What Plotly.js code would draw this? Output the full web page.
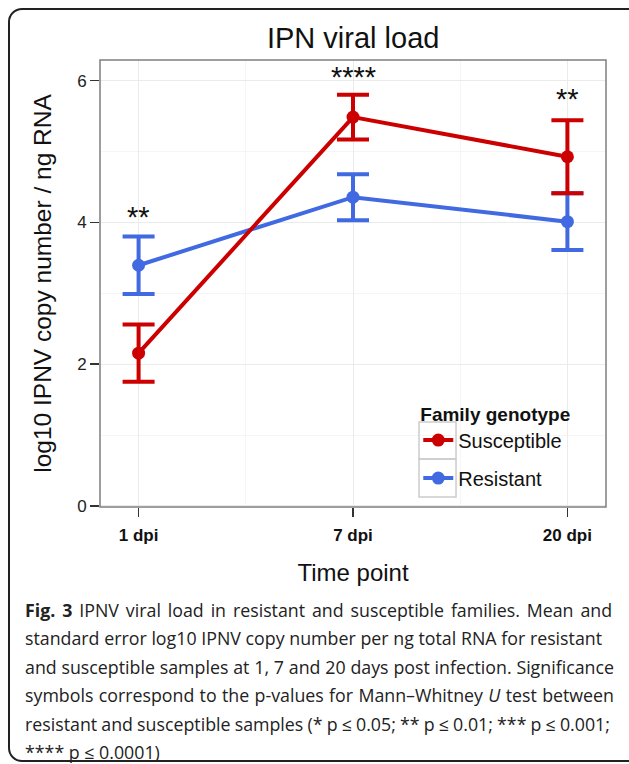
<!DOCTYPE html>
<html>
<head>
<meta charset="utf-8">
<script src="https://cdn.plot.ly/plotly-3.0.1.min.js"></script>
<style>
  html, body { margin: 0; padding: 0; background: #fff; }
  #wrap { position: relative; width: 629px; height: 764px; overflow: hidden; background: #fff; }
  #frame { position: absolute; left: 8px; top: 8px; width: 640px; height: 754px;
           border: 2px solid #222; border-radius: 14px; box-sizing: border-box; }
  #chart { position: absolute; left: 0; top: 0; width: 629px; height: 764px; }
  #caption { position: absolute; left: 25px; top: 596px; width: 600px;
             font-family: "Open Sans", "Noto Sans", sans-serif; font-size: 17.8px;
             line-height: 28.4px; color: #222; }
  #caption div { white-space: nowrap; }
  #caption span { display: inline-block; white-space: nowrap; }
</style>
</head>
<body>
<div id="wrap">
  <div id="frame"></div>
  <div id="chart"></div>
  <div id="caption">
    <div><span data-w="587"><b>Fig. 3</b> IPNV viral load in resistant and susceptible families. Mean and</span></div>
    <div><span data-w="577">standard error log10 IPNV copy number per ng total RNA for resistant</span></div>
    <div><span data-w="589">and susceptible samples at 1, 7 and 20 days post infection. Significance</span></div>
    <div><span data-w="589">symbols correspond to the p-values for Mann–Whitney <i>U</i> test between</span></div>
    <div><span data-w="585">resistant and susceptible samples (* p ≤ 0.05; ** p ≤ 0.01; *** p ≤ 0.001;</span></div>
    <div><span>**** p ≤ 0.0001)</span></div>
  </div>
</div>
<script>
// ---- data ----
const categories = ['1 dpi', '7 dpi', '20 dpi'];
const susceptibleMean = [2.155, 5.485, 4.925];
const susceptibleSE   = [0.405, 0.315, 0.515];
const resistantMean   = [3.395, 4.355, 4.01];
const resistantSE     = [0.405, 0.325, 0.40];
const sigLabels = ['**', '****', '**'];
const sigY      = [4.13, 6.11, 5.79];
const yTicks = [0, 2, 4, 6];

const xPos = categories.map((c, i) => i + 1);
const RED = '#CC0000', BLUE = '#4169E1';

function trace(name, mean, se, color, rank) {
  return {
    type: 'scatter', mode: 'lines+markers', name: name,
    x: xPos, y: mean,
    line: { color: color, width: 4 },
    marker: { color: color, size: 13 },
    error_y: { type: 'data', array: se, visible: true, color: color, thickness: 4, width: 16 },
    legendrank: rank, legendgroup: name, hoverinfo: 'skip'
  };
}

const data = [
  trace('Resistant', resistantMean, resistantSE, BLUE, 2),
  trace('Susceptible', susceptibleMean, susceptibleSE, RED, 1)
];

const annotations = sigLabels.map((t, i) => ({
  x: xPos[i], y: sigY[i], xref: 'x', yref: 'y', text: t, showarrow: false,
  yanchor: 'middle', yshift: -4,
  font: { family: 'Liberation Sans, Arial, sans-serif', size: 29, color: '#111' }
}));

// legend decoration (paper coordinates of the legend area)
const keyBox = (y0, y1) => ({ type: 'rect', xref: 'paper', yref: 'paper',
  x0: 0.6305, x1: 0.7036, y0: y0, y1: y1,
  line: { color: '#cccccc', width: 1.5 }, fillcolor: 'rgba(0,0,0,0)', layer: 'above' });

const layout = {
  width: 629, height: 764,
  margin: { l: 100, r: 23, t: 60, b: 257 },
  paper_bgcolor: 'rgba(0,0,0,0)', plot_bgcolor: '#fff',
  font: { family: 'Liberation Sans, Arial, sans-serif', color: '#111' },
  title: { text: 'IPN viral load', x: 0.5615, xanchor: 'center', y: 0.951, yanchor: 'middle',
           font: { size: 29, color: '#111' } },
  xaxis: {
    range: [0.82, 3.18], tickvals: xPos, ticktext: categories,
    showgrid: true, gridcolor: '#ebebeb', gridwidth: 1,
    minor: { dtick: 0.5, tick0: 1, showgrid: true, gridcolor: '#f5f5f5', gridwidth: 1 },
    zeroline: false, showline: false,
    ticks: 'outside', ticklen: 9, tickwidth: 1.5, tickcolor: '#333',
    ticklabelstandoff: 4,
    tickfont: { size: 17, color: '#111', weight: 'bold' },
    title: { text: 'Time point', font: { size: 24, color: '#111' }, standoff: 19 }
  },
  yaxis: {
    range: [-0.015, 6.29], tickvals: yTicks,
    showgrid: true, gridcolor: '#ebebeb', gridwidth: 1,
    minor: { dtick: 1, tick0: 0, showgrid: true, gridcolor: '#f5f5f5', gridwidth: 1 },
    zeroline: false, showline: false,
    ticks: 'outside', ticklen: 9, tickwidth: 1.5, tickcolor: '#333',
    tickfont: { size: 17, color: '#222' },
    title: { text: 'log10 IPNV copy number / ng RNA', font: { size: 24.5, color: '#111' }, standoff: 18 }
  },
  showlegend: true,
  legend: {
    x: 0.629, y: 0.2485, xanchor: 'left', yanchor: 'top',
    bgcolor: 'rgba(0,0,0,0)', borderwidth: 0,
    title: { text: '<b>Family genotype</b>', font: { size: 19, color: '#111' }, side: 'top' },
    font: { size: 20, color: '#111' },
    traceorder: 'grouped', tracegroupgap: 9, itemwidth: 30
  },
  shapes: [
    { type: 'rect', xref: 'paper', yref: 'paper', x0: 0.6225, x1: 0.966, y0: 0.016, y1: 0.257,
      line: { width: 0 }, fillcolor: '#fff', layer: 'between' },
    keyBox(0.1074, 0.190),
    keyBox(0.0224, 0.1074),
    { type: 'rect', xref: 'paper', yref: 'paper', x0: 0, x1: 1, y0: 0, y1: 1,
      line: { color: '#7f7f7f', width: 1.5 }, fillcolor: 'rgba(0,0,0,0)', layer: 'above' }
  ],
  annotations: annotations
};

Plotly.newPlot('chart', data, layout, { displayModeBar: false, staticPlot: true });

// fit caption lines to the reference's justified widths via word spacing
document.querySelectorAll('#caption span[data-w]').forEach(sp => {
  const target = parseFloat(sp.dataset.w);
  const w = sp.getBoundingClientRect().width;
  const spaces = (sp.textContent.match(/ /g) || []).length;
  if (spaces > 0) sp.style.wordSpacing = ((target - w) / spaces).toFixed(2) + 'px';
});
</script>
</body>
</html>
